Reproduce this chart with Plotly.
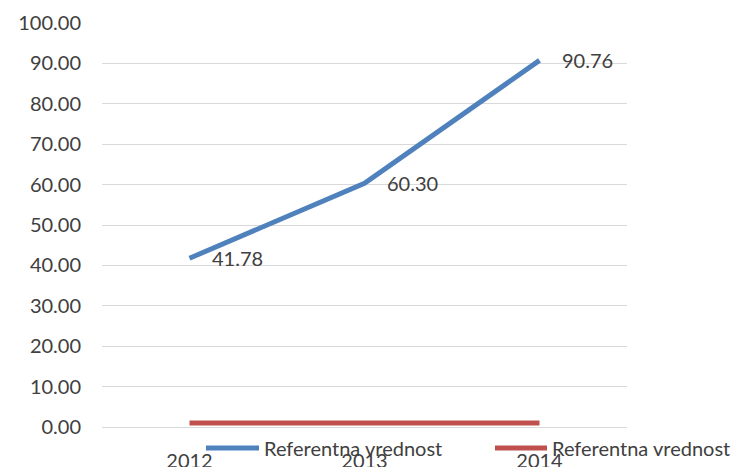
import plotly.graph_objects as go

# Series data
years = ["2012", "2013", "2014"]
blue_values = [41.78, 60.30, 90.76]
red_values = [1.0, 1.0, 1.0]
series_names = ["Referentna vrednost", "Referentna vrednost"]
y_ticks = [0, 10, 20, 30, 40, 50, 60, 70, 80, 90, 100]

BLUE = "#4F81BD"
RED = "#C0504D"
TEXT = "#404040"
GRID = "#D9D9D9"
FONT = "Lato"

W, H = 731, 467
ML, MR, MT, MB = 102, 104, 23, 40
PW, PH = W - ML - MR, H - MT - MB

fig = go.Figure()
fig.add_trace(go.Scatter(x=years, y=blue_values, mode="lines", name=series_names[0],
                         line=dict(color=BLUE, width=5), showlegend=False, hoverinfo="skip"))
fig.add_trace(go.Scatter(x=years, y=red_values, mode="lines", name=series_names[1],
                         line=dict(color=RED, width=5), showlegend=False, hoverinfo="skip"))

# value labels to the right of each point of the blue series
# (category axes place annotations by category index)
for i, v in enumerate(blue_values):
    fig.add_annotation(x=i, y=v, xref="x", yref="y", text=f"{v:.2f}", showarrow=False,
                       xanchor="left", yanchor="middle", xshift=20,
                       font=dict(family=FONT, size=20, color=TEXT))

# legend drawn below the axis: line sample + label for each series
def px_x(p):
    return (p - ML) / PW

def px_y(p):
    return (H - MB - p) / PH

legend_items = [(BLUE, 206, 259, 262), (RED, 495, 547, 550)]
for (color, x0, x1, tx), name in zip(legend_items, series_names):
    fig.add_shape(type="line", xref="paper", yref="paper",
                  x0=px_x(x0), x1=px_x(x1), y0=px_y(448), y1=px_y(448),
                  line=dict(color=color, width=5), layer="above")
    fig.add_annotation(xref="paper", yref="paper", x=px_x(tx), y=px_y(448),
                       text=name, showarrow=False, xanchor="left", yanchor="middle",
                       font=dict(family=FONT, size=20, color=TEXT))

fig.update_layout(
    width=W, height=H,
    margin=dict(l=ML, r=MR, t=MT, b=MB),
    paper_bgcolor="white", plot_bgcolor="white",
    font=dict(family=FONT, size=20, color=TEXT),
    showlegend=False,
)
fig.update_xaxes(type="category", range=[-0.5, 2.5], showgrid=False, showline=False,
                 zeroline=False, ticks="", ticklabelstandoff=20, automargin=False,
                 tickfont=dict(family=FONT, size=20, color=TEXT))
fig.update_yaxes(range=[0, 100], tickvals=y_ticks, tickformat=".2f", showgrid=True,
                 gridcolor=GRID, gridwidth=1, zeroline=True, zerolinecolor=GRID,
                 zerolinewidth=1, showline=False, ticks="", ticklabelstandoff=20,
                 automargin=False, tickfont=dict(family=FONT, size=20, color=TEXT))

fig.write_html("out.html")
